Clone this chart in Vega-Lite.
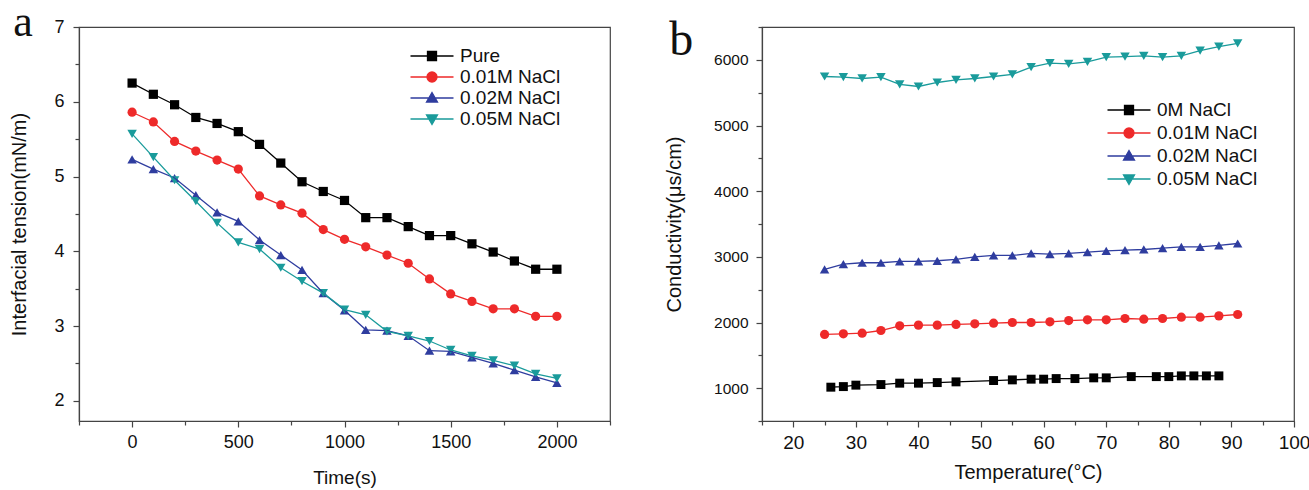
{
  "$schema": "https://vega.github.io/schema/vega-lite/v6.json",
  "background": "white",
  "padding": {"left": 9, "top": 0, "right": 0, "bottom": 0},
  "datasets": {
    "a": [
      {"s":"Pure","t":0,"v":6.25},{"s":"Pure","t":100,"v":6.10},{"s":"Pure","t":200,"v":5.96},{"s":"Pure","t":300,"v":5.79},{"s":"Pure","t":400,"v":5.71},{"s":"Pure","t":500,"v":5.60},{"s":"Pure","t":600,"v":5.43},{"s":"Pure","t":700,"v":5.18},{"s":"Pure","t":800,"v":4.93},{"s":"Pure","t":900,"v":4.80},{"s":"Pure","t":1000,"v":4.68},{"s":"Pure","t":1100,"v":4.45},{"s":"Pure","t":1200,"v":4.45},{"s":"Pure","t":1300,"v":4.33},{"s":"Pure","t":1400,"v":4.21},{"s":"Pure","t":1500,"v":4.21},{"s":"Pure","t":1600,"v":4.10},{"s":"Pure","t":1700,"v":3.99},{"s":"Pure","t":1800,"v":3.87},{"s":"Pure","t":1900,"v":3.76},{"s":"Pure","t":2000,"v":3.76},
      {"s":"0.01M NaCl","t":0,"v":5.86},{"s":"0.01M NaCl","t":100,"v":5.73},{"s":"0.01M NaCl","t":200,"v":5.47},{"s":"0.01M NaCl","t":300,"v":5.34},{"s":"0.01M NaCl","t":400,"v":5.22},{"s":"0.01M NaCl","t":500,"v":5.10},{"s":"0.01M NaCl","t":600,"v":4.74},{"s":"0.01M NaCl","t":700,"v":4.62},{"s":"0.01M NaCl","t":800,"v":4.51},{"s":"0.01M NaCl","t":900,"v":4.29},{"s":"0.01M NaCl","t":1000,"v":4.16},{"s":"0.01M NaCl","t":1100,"v":4.06},{"s":"0.01M NaCl","t":1200,"v":3.95},{"s":"0.01M NaCl","t":1300,"v":3.84},{"s":"0.01M NaCl","t":1400,"v":3.63},{"s":"0.01M NaCl","t":1500,"v":3.43},{"s":"0.01M NaCl","t":1600,"v":3.33},{"s":"0.01M NaCl","t":1700,"v":3.23},{"s":"0.01M NaCl","t":1800,"v":3.23},{"s":"0.01M NaCl","t":1900,"v":3.13},{"s":"0.01M NaCl","t":2000,"v":3.13},
      {"s":"0.02M NaCl","t":0,"v":5.23},{"s":"0.02M NaCl","t":100,"v":5.10},{"s":"0.02M NaCl","t":200,"v":4.98},{"s":"0.02M NaCl","t":300,"v":4.75},{"s":"0.02M NaCl","t":400,"v":4.52},{"s":"0.02M NaCl","t":500,"v":4.40},{"s":"0.02M NaCl","t":600,"v":4.15},{"s":"0.02M NaCl","t":700,"v":3.95},{"s":"0.02M NaCl","t":800,"v":3.75},{"s":"0.02M NaCl","t":900,"v":3.44},{"s":"0.02M NaCl","t":1000,"v":3.21},{"s":"0.02M NaCl","t":1100,"v":2.95},{"s":"0.02M NaCl","t":1200,"v":2.94},{"s":"0.02M NaCl","t":1300,"v":2.87},{"s":"0.02M NaCl","t":1400,"v":2.67},{"s":"0.02M NaCl","t":1500,"v":2.66},{"s":"0.02M NaCl","t":1600,"v":2.58},{"s":"0.02M NaCl","t":1700,"v":2.50},{"s":"0.02M NaCl","t":1800,"v":2.41},{"s":"0.02M NaCl","t":1900,"v":2.32},{"s":"0.02M NaCl","t":2000,"v":2.24},
      {"s":"0.05M NaCl","t":0,"v":5.57},{"s":"0.05M NaCl","t":100,"v":5.26},{"s":"0.05M NaCl","t":200,"v":4.95},{"s":"0.05M NaCl","t":300,"v":4.67},{"s":"0.05M NaCl","t":400,"v":4.38},{"s":"0.05M NaCl","t":500,"v":4.12},{"s":"0.05M NaCl","t":600,"v":4.03},{"s":"0.05M NaCl","t":700,"v":3.78},{"s":"0.05M NaCl","t":800,"v":3.60},{"s":"0.05M NaCl","t":900,"v":3.44},{"s":"0.05M NaCl","t":1000,"v":3.22},{"s":"0.05M NaCl","t":1100,"v":3.15},{"s":"0.05M NaCl","t":1200,"v":2.93},{"s":"0.05M NaCl","t":1300,"v":2.87},{"s":"0.05M NaCl","t":1400,"v":2.80},{"s":"0.05M NaCl","t":1500,"v":2.68},{"s":"0.05M NaCl","t":1600,"v":2.60},{"s":"0.05M NaCl","t":1700,"v":2.54},{"s":"0.05M NaCl","t":1800,"v":2.47},{"s":"0.05M NaCl","t":1900,"v":2.36},{"s":"0.05M NaCl","t":2000,"v":2.30}
    ],
    "b": [
      {"s":"0M NaCl","t":26,"v":1015},{"s":"0M NaCl","t":28,"v":1024},{"s":"0M NaCl","t":30,"v":1046},{"s":"0M NaCl","t":34,"v":1055},{"s":"0M NaCl","t":37,"v":1076},{"s":"0M NaCl","t":40,"v":1076},{"s":"0M NaCl","t":43,"v":1085},{"s":"0M NaCl","t":46,"v":1096},{"s":"0M NaCl","t":52,"v":1116},{"s":"0M NaCl","t":55,"v":1126},{"s":"0M NaCl","t":58,"v":1137},{"s":"0M NaCl","t":60,"v":1137},{"s":"0M NaCl","t":62,"v":1146},{"s":"0M NaCl","t":65,"v":1146},{"s":"0M NaCl","t":68,"v":1157},{"s":"0M NaCl","t":70,"v":1157},{"s":"0M NaCl","t":74,"v":1176},{"s":"0M NaCl","t":78,"v":1176},{"s":"0M NaCl","t":80,"v":1176},{"s":"0M NaCl","t":82,"v":1187},{"s":"0M NaCl","t":84,"v":1187},{"s":"0M NaCl","t":86,"v":1187},{"s":"0M NaCl","t":88,"v":1187},
      {"s":"0.01M NaCl","t":25,"v":1818},{"s":"0.01M NaCl","t":28,"v":1828},{"s":"0.01M NaCl","t":31,"v":1838},{"s":"0.01M NaCl","t":34,"v":1878},{"s":"0.01M NaCl","t":37,"v":1950},{"s":"0.01M NaCl","t":40,"v":1960},{"s":"0.01M NaCl","t":43,"v":1960},{"s":"0.01M NaCl","t":46,"v":1970},{"s":"0.01M NaCl","t":49,"v":1980},{"s":"0.01M NaCl","t":52,"v":1990},{"s":"0.01M NaCl","t":55,"v":2000},{"s":"0.01M NaCl","t":58,"v":2000},{"s":"0.01M NaCl","t":61,"v":2010},{"s":"0.01M NaCl","t":64,"v":2030},{"s":"0.01M NaCl","t":67,"v":2041},{"s":"0.01M NaCl","t":70,"v":2041},{"s":"0.01M NaCl","t":73,"v":2061},{"s":"0.01M NaCl","t":76,"v":2051},{"s":"0.01M NaCl","t":79,"v":2061},{"s":"0.01M NaCl","t":82,"v":2081},{"s":"0.01M NaCl","t":85,"v":2081},{"s":"0.01M NaCl","t":88,"v":2101},{"s":"0.01M NaCl","t":91,"v":2122},
      {"s":"0.02M NaCl","t":25,"v":2808},{"s":"0.02M NaCl","t":28,"v":2889},{"s":"0.02M NaCl","t":31,"v":2910},{"s":"0.02M NaCl","t":34,"v":2910},{"s":"0.02M NaCl","t":37,"v":2930},{"s":"0.02M NaCl","t":40,"v":2930},{"s":"0.02M NaCl","t":43,"v":2940},{"s":"0.02M NaCl","t":46,"v":2960},{"s":"0.02M NaCl","t":49,"v":3000},{"s":"0.02M NaCl","t":52,"v":3021},{"s":"0.02M NaCl","t":55,"v":3021},{"s":"0.02M NaCl","t":58,"v":3052},{"s":"0.02M NaCl","t":61,"v":3041},{"s":"0.02M NaCl","t":64,"v":3052},{"s":"0.02M NaCl","t":67,"v":3071},{"s":"0.02M NaCl","t":70,"v":3091},{"s":"0.02M NaCl","t":73,"v":3102},{"s":"0.02M NaCl","t":76,"v":3112},{"s":"0.02M NaCl","t":79,"v":3132},{"s":"0.02M NaCl","t":82,"v":3152},{"s":"0.02M NaCl","t":85,"v":3152},{"s":"0.02M NaCl","t":88,"v":3173},{"s":"0.02M NaCl","t":91,"v":3203},
      {"s":"0.05M NaCl","t":25,"v":5746},{"s":"0.05M NaCl","t":28,"v":5736},{"s":"0.05M NaCl","t":31,"v":5716},{"s":"0.05M NaCl","t":34,"v":5736},{"s":"0.05M NaCl","t":37,"v":5625},{"s":"0.05M NaCl","t":40,"v":5594},{"s":"0.05M NaCl","t":43,"v":5655},{"s":"0.05M NaCl","t":46,"v":5696},{"s":"0.05M NaCl","t":49,"v":5716},{"s":"0.05M NaCl","t":52,"v":5746},{"s":"0.05M NaCl","t":55,"v":5777},{"s":"0.05M NaCl","t":58,"v":5888},{"s":"0.05M NaCl","t":61,"v":5949},{"s":"0.05M NaCl","t":64,"v":5939},{"s":"0.05M NaCl","t":67,"v":5970},{"s":"0.05M NaCl","t":70,"v":6040},{"s":"0.05M NaCl","t":73,"v":6050},{"s":"0.05M NaCl","t":76,"v":6061},{"s":"0.05M NaCl","t":79,"v":6040},{"s":"0.05M NaCl","t":82,"v":6061},{"s":"0.05M NaCl","t":85,"v":6141},{"s":"0.05M NaCl","t":88,"v":6202},{"s":"0.05M NaCl","t":91,"v":6252}
    ]
  },
  "hconcat": [
    {
      "width": 531,
      "height": 394,
      "resolve": {"axis": {"x": "independent", "y": "independent"}},
      "layer": [
        {
          "data": {"name": "a"},
          "transform": [{"filter": "false"}],
          "mark": {"type": "point", "filled": true, "opacity": 1},
          "encoding": {
            "x": {"field": "t", "type": "quantitative", "scale": {"domain": [-250, 2250], "nice": false, "zero": false}, "axis": null},
            "y": {"field": "v", "type": "quantitative", "scale": {"domain": [1.73, 7], "nice": false, "zero": false}, "axis": null},
            "color": {"field": "s", "type": "nominal",
              "scale": {"domain": ["Pure","0.01M NaCl","0.02M NaCl","0.05M NaCl"], "range": ["#000000","#ee2a2a","#2f3d9f","#1a9b9b"]},
              "legend": {"title": null, "orient": "none", "legendX": 342, "legendY": 18, "padding": 0, "rowPadding": 0,
                "labelOffset": 17, "symbolSize": 400, "symbolStrokeWidth": 1.3, "symbolOpacity": 1,
                "labelFont": "Liberation Sans", "labelFontSize": 19, "labelColor": "#111"}},
            "stroke": {"field": "s", "type": "nominal",
              "scale": {"domain": ["Pure","0.01M NaCl","0.02M NaCl","0.05M NaCl"], "range": ["#000000","#ee2a2a","#2f3d9f","#1a9b9b"]}},
            "shape": {"field": "s", "type": "nominal",
              "scale": {"domain": ["Pure","0.01M NaCl","0.02M NaCl","0.05M NaCl"],
                "range": ["M-2.15,0H2.15M-0.45,-0.45H0.45V0.45H-0.45Z",
                          "M-2.15,0H2.15M-0.5,0A0.5,0.5,0,1,1,0.5,0A0.5,0.5,0,1,1,-0.5,0Z",
                          "M-2.15,0H2.15M0,-0.55L0.55,0.4L-0.55,0.4Z",
                          "M-2.15,0H2.15M0,0.55L0.55,-0.4L-0.55,-0.4Z"]}}
          }
        },
        {
          "data": {"name": "a"},
          "transform": [{"filter": "datum.s === 'Pure'"}],
          "mark": {"type": "point", "filled": true, "opacity": 1, "size": 85, "shape": "square"},
          "encoding": {
            "x": {"field": "t", "type": "quantitative",
              "axis": {"orient": "bottom", "values": [-250,250,750,1250,1750,2250], "labels": false, "title": null, "domain": false, "tickSize": 4}},
            "y": {"field": "v", "type": "quantitative",
              "axis": {"orient": "left", "values": [2.5,3.5,4.5,5.5,6.5], "labels": false, "title": null, "domain": false, "tickSize": 4}},
            "color": {"field": "s", "type": "nominal"}
          }
        },
        {
          "data": {"name": "a"},
          "transform": [{"filter": "datum.s === '0.01M NaCl'"}],
          "mark": {"type": "point", "filled": true, "opacity": 1, "size": 85, "shape": "circle"},
          "encoding": {
            "x": {"field": "t", "type": "quantitative", "axis": null},
            "y": {"field": "v", "type": "quantitative", "axis": null},
            "color": {"field": "s", "type": "nominal"}
          }
        },
        {
          "data": {"name": "a"},
          "transform": [{"filter": "datum.s === '0.02M NaCl'"}],
          "mark": {"type": "point", "filled": true, "opacity": 1, "size": 90, "shape": "triangle-up"},
          "encoding": {
            "x": {"field": "t", "type": "quantitative", "axis": null},
            "y": {"field": "v", "type": "quantitative", "axis": null},
            "color": {"field": "s", "type": "nominal"}
          }
        },
        {
          "data": {"name": "a"},
          "transform": [{"filter": "datum.s === '0.05M NaCl'"}],
          "mark": {"type": "point", "filled": true, "opacity": 1, "size": 90, "shape": "triangle-down"},
          "encoding": {
            "x": {"field": "t", "type": "quantitative", "axis": null},
            "y": {"field": "v", "type": "quantitative", "axis": null},
            "color": {"field": "s", "type": "nominal"}
          }
        },
        {
          "data": {"name": "a"},
          "mark": {"type": "line", "strokeWidth": 1.3},
          "encoding": {
            "x": {"field": "t", "type": "quantitative",
              "axis": {"title": "Time(s)", "orient": "bottom", "values": [0,500,1000,1500,2000], "format": "d",
                "tickSize": 6, "labelFontSize": 18, "labelPadding": 6, "titleFontSize": 19, "titlePadding": 17, "labelFlush": false, "labelOverlap": false}},
            "y": {"field": "v", "type": "quantitative",
              "axis": {"title": "Interfacial tension(mN/m)", "orient": "left", "values": [2,3,4,5,6,7], "format": "d",
                "tickSize": 6, "labelFontSize": 18, "labelPadding": 9, "titleFontSize": 20, "titlePadding": 24, "labelFlush": false, "labelOverlap": false}},
            "color": {"field": "s", "type": "nominal"},
            "detail": {"field": "s"}
          }
        },
        {
          "data": {"values": [{"lab": "a"}]},
          "mark": {"type": "text", "font": "Liberation Serif", "fontSize": 44, "align": "center", "baseline": "alphabetic", "color": "#111"},
          "encoding": {
            "x": {"datum": -513, "type": "quantitative", "axis": null},
            "y": {"datum": 6.88, "type": "quantitative", "axis": null},
            "text": {"field": "lab"}
          }
        }
      ]
    },
    {
      "width": 532,
      "height": 394,
      "resolve": {"axis": {"x": "independent", "y": "independent"}},
      "layer": [
        {
          "data": {"name": "b"},
          "transform": [{"filter": "false"}],
          "mark": {"type": "point", "filled": true, "opacity": 1},
          "encoding": {
            "x": {"field": "t", "type": "quantitative", "scale": {"domain": [15, 100], "nice": false, "zero": false}, "axis": null},
            "y": {"field": "v", "type": "quantitative", "scale": {"domain": [500, 6500], "nice": false, "zero": false}, "axis": null},
            "color": {"field": "s", "type": "nominal",
              "scale": {"domain": ["0M NaCl","0.01M NaCl","0.02M NaCl","0.05M NaCl"], "range": ["#000000","#ee2a2a","#2f3d9f","#1a9b9b"]},
              "legend": {"title": null, "orient": "none", "legendX": 356, "legendY": 72, "padding": 0, "rowPadding": 2,
                "labelOffset": 17, "symbolSize": 400, "symbolStrokeWidth": 1.3, "symbolOpacity": 1,
                "labelFont": "Liberation Sans", "labelFontSize": 19, "labelColor": "#111"}},
            "stroke": {"field": "s", "type": "nominal",
              "scale": {"domain": ["0M NaCl","0.01M NaCl","0.02M NaCl","0.05M NaCl"], "range": ["#000000","#ee2a2a","#2f3d9f","#1a9b9b"]}},
            "shape": {"field": "s", "type": "nominal",
              "scale": {"domain": ["0M NaCl","0.01M NaCl","0.02M NaCl","0.05M NaCl"],
                "range": ["M-2.15,0H2.15M-0.45,-0.45H0.45V0.45H-0.45Z",
                          "M-2.15,0H2.15M-0.5,0A0.5,0.5,0,1,1,0.5,0A0.5,0.5,0,1,1,-0.5,0Z",
                          "M-2.15,0H2.15M0,-0.55L0.55,0.4L-0.55,0.4Z",
                          "M-2.15,0H2.15M0,0.55L0.55,-0.4L-0.55,-0.4Z"]}}
          }
        },
        {
          "data": {"name": "b"},
          "transform": [{"filter": "datum.s === '0M NaCl'"}],
          "mark": {"type": "point", "filled": true, "opacity": 1, "size": 80, "shape": "square"},
          "encoding": {
            "x": {"field": "t", "type": "quantitative",
              "axis": {"orient": "bottom", "values": [15,25,35,45,55,65,75,85,95], "labels": false, "title": null, "domain": false, "tickSize": 4}},
            "y": {"field": "v", "type": "quantitative",
              "axis": {"orient": "left", "values": [500,1500,2500,3500,4500,5500,6500], "labels": false, "title": null, "domain": false, "tickSize": 4}},
            "color": {"field": "s", "type": "nominal"}
          }
        },
        {
          "data": {"name": "b"},
          "transform": [{"filter": "datum.s === '0.01M NaCl'"}],
          "mark": {"type": "point", "filled": true, "opacity": 1, "size": 85, "shape": "circle"},
          "encoding": {
            "x": {"field": "t", "type": "quantitative", "axis": null},
            "y": {"field": "v", "type": "quantitative", "axis": null},
            "color": {"field": "s", "type": "nominal"}
          }
        },
        {
          "data": {"name": "b"},
          "transform": [{"filter": "datum.s === '0.02M NaCl'"}],
          "mark": {"type": "point", "filled": true, "opacity": 1, "size": 90, "shape": "triangle-up"},
          "encoding": {
            "x": {"field": "t", "type": "quantitative", "axis": null},
            "y": {"field": "v", "type": "quantitative", "axis": null},
            "color": {"field": "s", "type": "nominal"}
          }
        },
        {
          "data": {"name": "b"},
          "transform": [{"filter": "datum.s === '0.05M NaCl'"}],
          "mark": {"type": "point", "filled": true, "opacity": 1, "size": 90, "shape": "triangle-down"},
          "encoding": {
            "x": {"field": "t", "type": "quantitative", "axis": null},
            "y": {"field": "v", "type": "quantitative", "axis": null},
            "color": {"field": "s", "type": "nominal"}
          }
        },
        {
          "data": {"name": "b"},
          "mark": {"type": "line", "strokeWidth": 1.3},
          "encoding": {
            "x": {"field": "t", "type": "quantitative",
              "axis": {"title": "Temperature(°C)", "orient": "bottom", "values": [20,30,40,50,60,70,80,90,100], "format": "d",
                "tickSize": 6, "labelFontSize": 19, "labelPadding": 6, "titleFontSize": 20, "titlePadding": 10, "labelFlush": false, "labelOverlap": false}},
            "y": {"field": "v", "type": "quantitative",
              "axis": {"title": "Conductivity(μs/cm)", "orient": "left", "values": [1000,2000,3000,4000,5000,6000], "format": "d",
                "tickSize": 6, "labelFontSize": 15.5, "labelPadding": 8, "titleFontSize": 20, "titlePadding": 29, "labelFlush": false, "labelOverlap": false}},
            "color": {"field": "s", "type": "nominal"},
            "detail": {"field": "s"}
          }
        },
        {
          "data": {"values": [{"lab": "b"}]},
          "mark": {"type": "text", "font": "Liberation Serif", "fontSize": 48, "align": "center", "baseline": "alphabetic", "color": "#111"},
          "encoding": {
            "x": {"datum": 2.1, "type": "quantitative", "axis": null},
            "y": {"datum": 6078, "type": "quantitative", "axis": null},
            "text": {"field": "lab"}
          }
        }
      ]
    }
  ],
  "spacing": 152,
  "bounds": "flush",
  "resolve": {"scale": {"color": "independent", "stroke": "independent", "shape": "independent", "x": "independent", "y": "independent"}, "legend": {"color": "independent", "stroke": "independent", "shape": "independent"}},
  "config": {
    "view": {"stroke": "#444", "strokeWidth": 1.2},
    "axis": {"grid": false, "domainColor": "#444", "domainWidth": 1.2, "tickColor": "#444", "tickWidth": 1.2, "labelColor": "#111", "titleColor": "#111",
      "labelFont": "Liberation Sans", "titleFont": "Liberation Sans", "titleFontWeight": "normal"}
  }
}
